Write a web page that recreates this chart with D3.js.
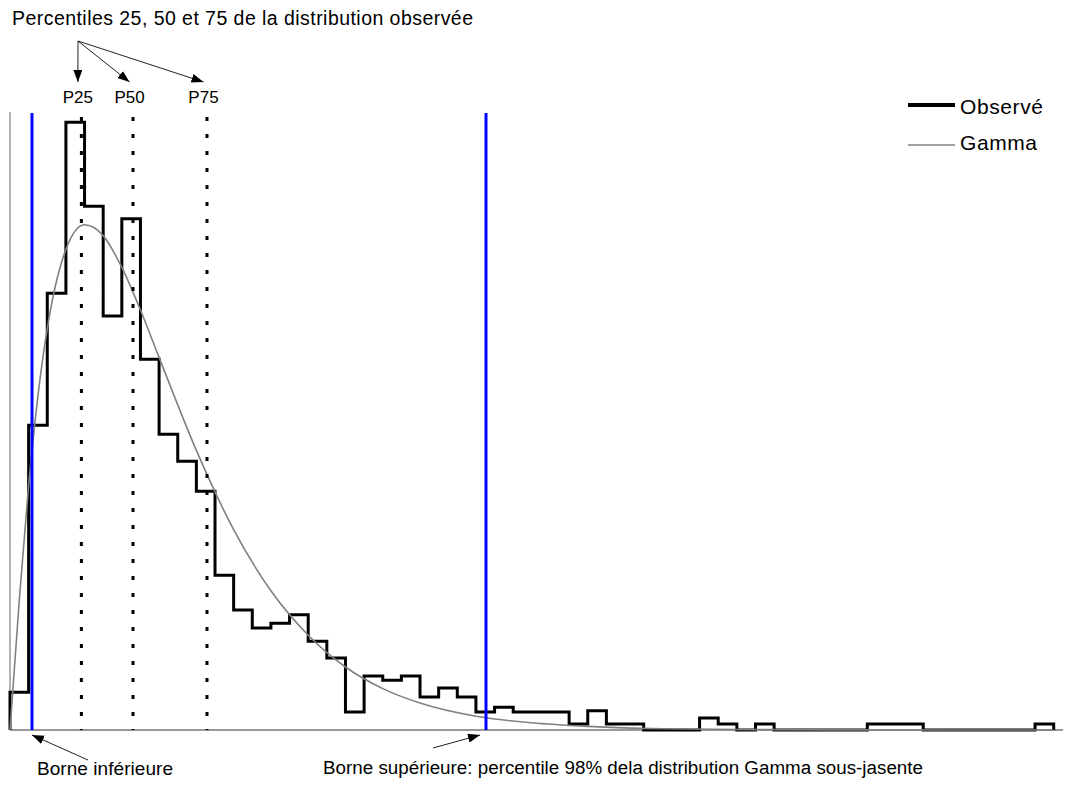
<!DOCTYPE html>
<html>
<head>
  <meta charset="utf-8">
  <title>gamma</title>
  <style>
    body{ margin:0; background:#fff; }
    text{ font-family:"Liberation Sans", Arial, sans-serif; fill:#000; }
  </style>
  <script src="https://d3js.org/d3.v7.min.js"></script>
</head>
<body>
  <script>
    // histogramme observé : 56 classes de largeur 1
    var counts = [6.3, 50.8, 72.8, 101.3, 87.3, 69, 85.2, 61.8, 49.3, 44.8,
                  39.8, 25.8, 20, 17, 17.8, 19.2, 14.8, 12, 3, 9,
                  8.3, 9, 5.5, 7, 5.5, 3, 3.8, 3, 3, 3,
                  1, 3.2, 1, 1, 0, 0, 0, 2, 1, 0,
                  1, 0, 0, 0, 0, 0, 1, 1, 1, 0,
                  0, 0, 0, 0, 0, 1];

    // densité Gamma ajustée
    var gammaX = [0, 0.5, 1, 1.5, 2, 3, 4, 5, 6, 7, 8, 10, 12, 14, 16, 18, 20, 22, 25, 28, 31, 35, 40, 45, 50, 56];
    var gammaY = [0, 21.7, 40.8, 55.7, 66.9, 80.1, 84.2, 82.4, 77.1, 70.0, 62.1, 46.6, 33.4, 23.2, 15.8, 10.5, 6.9, 4.5, 2.3, 1.2, 0.6, 0.2, 0.07, 0.02, 0.01, 0];

    var percentileNames = ['P25', 'P50', 'P75'];
    var percentileValues = [3.83, 6.6, 10.57];
    var bornes = [1.18, 25.54];   // borne inférieure, borne supérieure (P98 Gamma)

    var legendNames = ['Observé', 'Gamma'];

    var width = 1070, height = 789;
    var svg = d3.select('body')
      .append('svg')
      .attr('width', width)
      .attr('height', height);

    var x = d3.scaleLinear().domain([0, 56.5]).range([10, 1063]);
    var y = d3.scaleLinear().domain([0, 103]).range([730, 112]);

    // flèches
    var defs = svg.append('defs');
    defs.append('marker')
      .attr('id', 'head')
      .attr('markerUnits', 'userSpaceOnUse')
      .attr('markerWidth', 13).attr('markerHeight', 10)
      .attr('refX', 12).attr('refY', 4.5)
      .attr('orient', 'auto')
      .append('path')
      .attr('d', 'M0,0 L12,4.5 L0,9 Z')
      .attr('fill', '#000');

    // axes gris
    svg.append('line')
      .attr('x1', x(0)).attr('x2', x(0))
      .attr('y1', y(0)).attr('y2', y(103))
      .attr('stroke', '#808080').attr('stroke-width', 1.2);
    svg.append('line')
      .attr('x1', x(0)).attr('x2', x(56.5))
      .attr('y1', y(0)).attr('y2', y(0))
      .attr('stroke', '#999').attr('stroke-width', 2);

    // histogramme en escalier
    var pts = [[0, 0]].concat(counts.map((c, i) => [i, c])).concat([[counts.length, 0]]);
    var step = d3.line()
      .x(d => x(d[0]))
      .y(d => y(d[1]))
      .curve(d3.curveStepAfter);
    svg.append('path')
      .attr('d', step(pts))
      .attr('fill', 'none')
      .attr('stroke', '#000')
      .attr('stroke-width', 3);

    // courbe gamma
    var curve = d3.line()
      .x((d, i) => x(gammaX[i]))
      .y(d => y(d))
      .curve(d3.curveMonotoneX);
    svg.append('path')
      .attr('d', curve(gammaY))
      .attr('fill', 'none')
      .attr('stroke', '#808080')
      .attr('stroke-width', 1.6);

    // percentiles (pointillés)
    svg.selectAll('.pct')
      .data(percentileValues)
      .enter()
      .append('line')
      .attr('class', 'pct')
      .attr('x1', d => x(d)).attr('x2', d => x(d))
      .attr('y1', 117).attr('y2', y(0))
      .attr('stroke', '#000')
      .attr('stroke-width', 3)
      .attr('stroke-dasharray', '4,13');

    // bornes (bleu)
    svg.selectAll('.borne')
      .data(bornes)
      .enter()
      .append('line')
      .attr('class', 'borne')
      .attr('x1', d => x(d)).attr('x2', d => x(d))
      .attr('y1', 113).attr('y2', y(0))
      .attr('stroke', '#0000ff')
      .attr('stroke-width', 3);

    // titre et étiquettes des percentiles
    svg.append('text')
      .attr('x', 12).attr('y', 25)
      .attr('font-size', 19.5)
      .attr('textLength', 461)
      .text('Percentiles 25, 50 et 75 de la distribution observée');

    svg.selectAll('.plab')
      .data(percentileValues)
      .enter()
      .append('text')
      .attr('class', 'plab')
      .attr('x', d => x(d) - 3.5)
      .attr('y', 103)
      .attr('font-size', 17)
      .attr('text-anchor', 'middle')
      .text((d, i) => percentileNames[i]);

    svg.selectAll('.parrow')
      .data(percentileValues)
      .enter()
      .append('line')
      .attr('class', 'parrow')
      .attr('x1', 78).attr('y1', 41)
      .attr('x2', d => x(d) - 3.5).attr('y2', 82)
      .attr('stroke', '#222').attr('stroke-width', 1)
      .attr('marker-end', 'url(#head)');

    // annotations du bas
    svg.append('line')
      .attr('x1', 88).attr('y1', 760)
      .attr('x2', x(bornes[0])).attr('y2', 735)
      .attr('stroke', '#222').attr('stroke-width', 1)
      .attr('marker-end', 'url(#head)');
    svg.append('line')
      .attr('x1', 433).attr('y1', 748)
      .attr('x2', x(bornes[1]) - 6).attr('y2', 735)
      .attr('stroke', '#222').attr('stroke-width', 1)
      .attr('marker-end', 'url(#head)');

    svg.append('text')
      .attr('x', 37).attr('y', 775)
      .attr('font-size', 19)
      .attr('textLength', 136)
      .text('Borne inférieure');
    svg.append('text')
      .attr('x', 323).attr('y', 774)
      .attr('font-size', 18.8)
      .attr('textLength', 600)
      .text('Borne supérieure: percentile 98% dela distribution Gamma sous-jasente');

    // légende
    var legend = svg.append('g').attr('transform', 'translate(908,105)');
    var lg = legend.selectAll('g')
      .data(legendNames)
      .enter()
      .append('g')
      .attr('transform', (d, i) => 'translate(0,' + i * 40 + ')');
    lg.append('line')
      .attr('x1', 0).attr('x2', 47)
      .attr('y1', 0).attr('y2', 0)
      .attr('stroke', (d, i) => i == 0 ? '#000' : '#808080')
      .attr('stroke-width', (d, i) => i == 0 ? 4 : 1.6);
    lg.append('text')
      .attr('x', 52).attr('y', (d, i) => i == 0 ? 9 : 5)
      .attr('font-size', 21)
      .attr('textLength', (d, i) => i == 0 ? 83 : 77)
      .text(d => d);
  </script>
</body>
</html>
